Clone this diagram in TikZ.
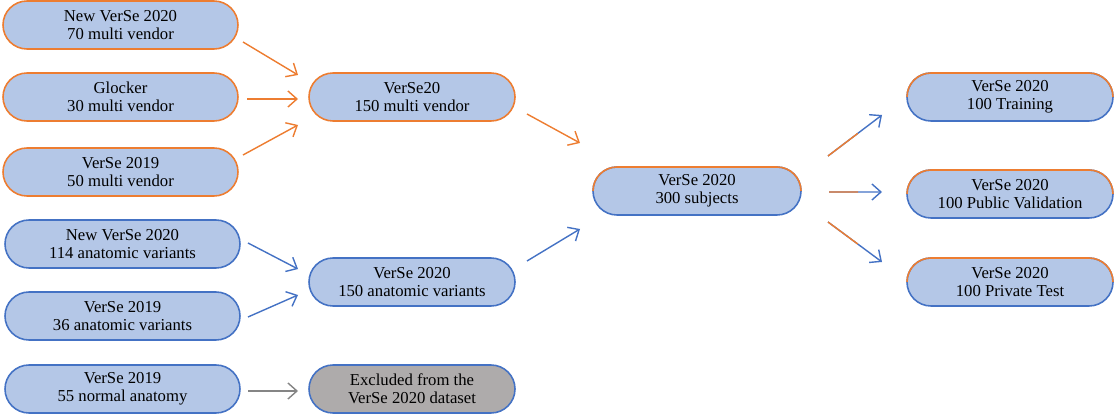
\documentclass[tikz,border=0pt]{standalone}
\usepackage{fontspec}
\setmainfont{Liberation Serif}
\usetikzlibrary{shapes.misc}
\usetikzlibrary{arrows.meta}
\usetikzlibrary{calc}

\definecolor{boxfill}{HTML}{B4C7E7}
\definecolor{orangeline}{HTML}{ED7D31}
\definecolor{blueline}{HTML}{4472C4}
\definecolor{greyfill}{HTML}{AEABAB}
\definecolor{greyline}{HTML}{858585}

\begin{document}
\begin{tikzpicture}[box/.style={rounded rectangle, fill=boxfill, line width=1.8pt, minimum height=1.92cm, inner sep=0pt, outer sep=0pt, align=center, text=black, font=\fontsize{19}{21}\selectfont}, orangebox/.style={box, draw=orangeline}, bluebox/.style={box, draw=blueline}, arr/.style={-{Straight Barb[length=0.36cm, width=0.64cm]}, line width=1.6pt}, toptrim/.style={draw=orangeline, line width=1.8pt}]
    \useasboundingbox (0,0) rectangle (44.6,16.68);

    % sources
    \node[orangebox, minimum width=9.4cm] (n1) at (4.82,15.68) {New VerSe 2020\\70 multi vendor};
    \node[orangebox, minimum width=9.4cm] (n2) at (4.82,12.8) {Glocker\\30 multi vendor};
    \node[orangebox, minimum width=9.4cm] (n3) at (4.82,9.8) {VerSe 2019\\50 multi vendor};
    \node[bluebox, minimum width=9.4cm] (n4) at (4.9,6.92) {New VerSe 2020\\114 anatomic variants};
    \node[bluebox, minimum width=9.4cm] (n5) at (4.9,4.04) {VerSe 2019\\36 anatomic variants};
    \node[bluebox, minimum width=9.4cm] (n6) at (4.9,1.12) {VerSe 2019\\55 normal anatomy};

    % merged sets
    \node[orangebox, minimum width=8.24cm] (m1) at (16.48,12.8) {VerSe20\\150 multi vendor};
    \node[bluebox, minimum width=8.24cm] (m2) at (16.48,5.4) {VerSe 2020\\150 anatomic variants};
    \node[bluebox, fill=greyfill, minimum width=8.24cm] (m3) at (16.48,1.12) {Excluded from the\\VerSe 2020 dataset};

    % full set
    \node[bluebox, minimum width=8.32cm] (c) at (27.88,9.04) {VerSe 2020\\300 subjects};

    % splits
    \node[bluebox, minimum width=8.24cm] (r1) at (40.4,12.8) {VerSe 2020\\100 Training};
    \node[bluebox, minimum width=8.24cm] (r2) at (40.4,8.92) {VerSe 2020\\100 Public Validation};
    \node[bluebox, minimum width=8.24cm] (r3) at (40.4,5.4) {VerSe 2020\\100 Private Test};

    % orange top edges
    \draw[toptrim] (c.east) arc[start angle=0, end angle=90, radius=0.96cm] -- ($(c.west)+(0.96,0.96)$) arc[start angle=90, end angle=180, radius=0.96cm];
    \draw[toptrim] (r1.east) arc[start angle=0, end angle=90, radius=0.96cm] -- ($(r1.west)+(0.96,0.96)$) arc[start angle=90, end angle=180, radius=0.96cm];
    \draw[toptrim] (r2.east) arc[start angle=0, end angle=90, radius=0.96cm] -- ($(r2.west)+(0.96,0.96)$) arc[start angle=90, end angle=180, radius=0.96cm];
    \draw[toptrim] (r3.east) arc[start angle=0, end angle=90, radius=0.96cm] -- ($(r3.west)+(0.96,0.96)$) arc[start angle=90, end angle=180, radius=0.96cm];

    % arrows
    \draw[arr, orangeline] ([shift={(0.2,-0.68)}]n1.east) -- ([shift={(-0.44,0.88)}]m1.west);
    \draw[arr, orangeline] ([shift={(0.36,-0.08)}]n2.east) -- ([shift={(-0.44,-0.08)}]m1.west);
    \draw[arr, orangeline] ([shift={(0.2,0.68)}]n3.east) -- ([shift={(-0.44,-1.12)}]m1.west);
    \draw[arr, blueline] ([shift={(0.32,0.04)}]n4.east) -- ([shift={(-0.44,0.52)}]m2.west);
    \draw[arr, blueline] ([shift={(0.32,-0.04)}]n5.east) -- ([shift={(-0.44,-0.52)}]m2.west);
    \draw[arr, greyline] ([shift={(0.32,-0.08)}]n6.east) -- ([shift={(-0.44,-0.08)}]m3.west);
    \draw[arr, orangeline] ([shift={(0.48,-0.68)}]m1.east) -- ([shift={(-0.52,1.92)}]c.west);
    \draw[arr, blueline] ([shift={(0.48,0.84)}]m2.east) -- ([shift={(-0.52,-1.52)}]c.west);

    \coordinate (s1) at ([shift={(1.08,1.4)}]c.east);
    \coordinate (e1) at ([shift={(-1.0,-0.72)}]r1.west);
    \coordinate (s2) at ([shift={(1.12,-0.04)}]c.east);
    \coordinate (e2) at ([shift={(-1.0,0.08)}]r2.west);
    \coordinate (s3) at ([shift={(1.08,-1.24)}]c.east);
    \coordinate (e3) at ([shift={(-1.0,0.8)}]r3.west);
    \draw[arr, blueline] (s1) -- (e1);
    \draw[arr, blueline] (s2) -- (e2);
    \draw[arr, blueline] (s3) -- (e3);
    \draw[orangeline, line width=1.6pt] (s1) -- ($(s1)!0.55!(e1)$);
    \draw[orangeline, line width=1.6pt] (s2) -- ($(s2)!0.55!(e2)$);
    \draw[orangeline, line width=1.6pt] (s3) -- ($(s3)!0.55!(e3)$);
\end{tikzpicture}
\end{document}
